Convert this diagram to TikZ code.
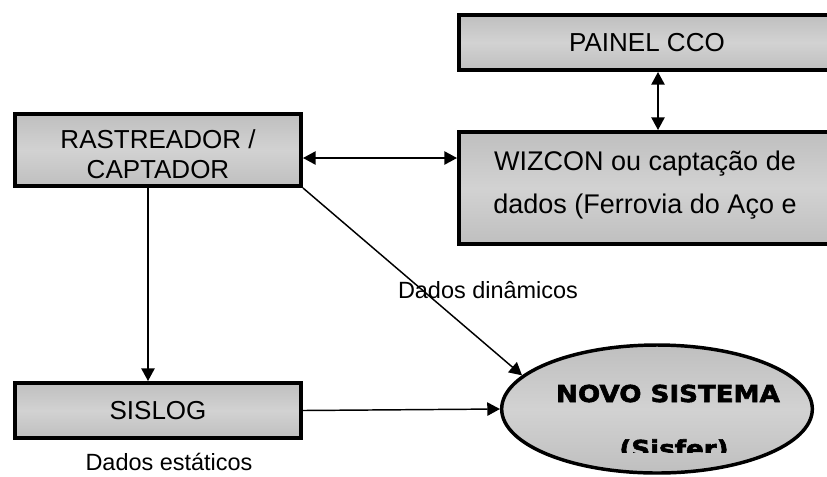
\documentclass[tikz,border=0pt]{standalone}
\usepackage{fontspec}
\setmainfont{Liberation Sans}
\newfontfamily\novofont[FakeStretch=1.12,FakeBold=2.5]{DejaVu Sans Bold}
\usetikzlibrary{arrows.meta,positioning,shapes.geometric}
\definecolor{boxedge}{HTML}{BFBFBF}
\definecolor{boxmid}{HTML}{D2D2D2}

\begin{document}
\begin{tikzpicture}[
  x=0.75pt, y=-0.75pt,
  box/.style={draw, line width=3pt, top color=boxedge, bottom color=boxedge, middle color=boxmid, align=center, inner sep=0pt, font=\fontsize{19.5}{22.5}\selectfont},
  sysnode/.style={draw, ellipse, line width=2.6pt, top color=boxedge, bottom color=boxedge, middle color=boxmid, inner sep=0pt, minimum width=233pt, minimum height=96pt},
  lbl/.style={font=\fontsize{17.6}{20}\selectfont, inner sep=0pt},
  flow/.style={-{Triangle[length=9.5pt,width=10pt]}, line width=1.1pt},
  flowboth/.style={{Triangle[length=9.5pt,width=10pt]}-{Triangle[length=9.5pt,width=10pt]}, line width=1.1pt}
]
\useasboundingbox (0,0) rectangle (827,476);
\clip (0,0) rectangle (827,476);
\node[box, minimum width=214.5pt, minimum height=54pt, anchor=north west] (rast) at (13,112) {};
\node[align=center, inner sep=0pt, anchor=base, font=\fontsize{19.5}{22.5}\selectfont] (rasttext) at (158,178) {RASTREADOR /\\CAPTADOR};
\node[box, minimum width=214.5pt, minimum height=41.25pt, below=144.75pt of rast] (sislog) {SISLOG};
\node[box, minimum width=282pt, minimum height=41.25pt, anchor=north west] (painel) at (457,13) {PAINEL CCO};
\node[box, minimum width=282pt, minimum height=84pt, below=43.5pt of painel] (wizcon) {};
\node[align=center, inner sep=0pt, anchor=north, font=\fontsize{20.25}{32.25}\selectfont] (wiztext) at (645,151) {WIZCON ou captação de\\dados (Ferrovia do Aço e};
\node[sysnode] (novo) at (657,409) {};
\begin{scope}
  \clip (500,340) rectangle (815,452);
  \node[anchor=base, inner sep=0pt, font=\novofont\fontsize{17.5}{20}\selectfont] (novotop) at (668,402) {NOVO SISTEMA};
  \node[anchor=base, inner sep=0pt, font=\novofont\fontsize{17.5}{20}\selectfont] (novobot) at (674,457) {(Sisfer)};
\end{scope}
\node[lbl, anchor=base] (dyn) at (488,298) {Dados dinâmicos};
\node[lbl, anchor=base] (stat) at (169,470) {Dados estáticos};
\coordinate (ra) at ([yshift=-6pt]rast.east);
\draw[flowboth] (ra) -- (ra -| wizcon.west);
\draw[flowboth] ([xshift=8.25pt]painel.south) -- ([xshift=8.25pt]wizcon.north);
\draw[flow] ([xshift=-7.5pt]rast.south) -- ([xshift=-7.5pt]sislog.north);
\draw[flow] (rast.south east) -- (novo.166);
\draw[flow] (sislog.east) -- (novo.west);
\end{tikzpicture}
\end{document}
